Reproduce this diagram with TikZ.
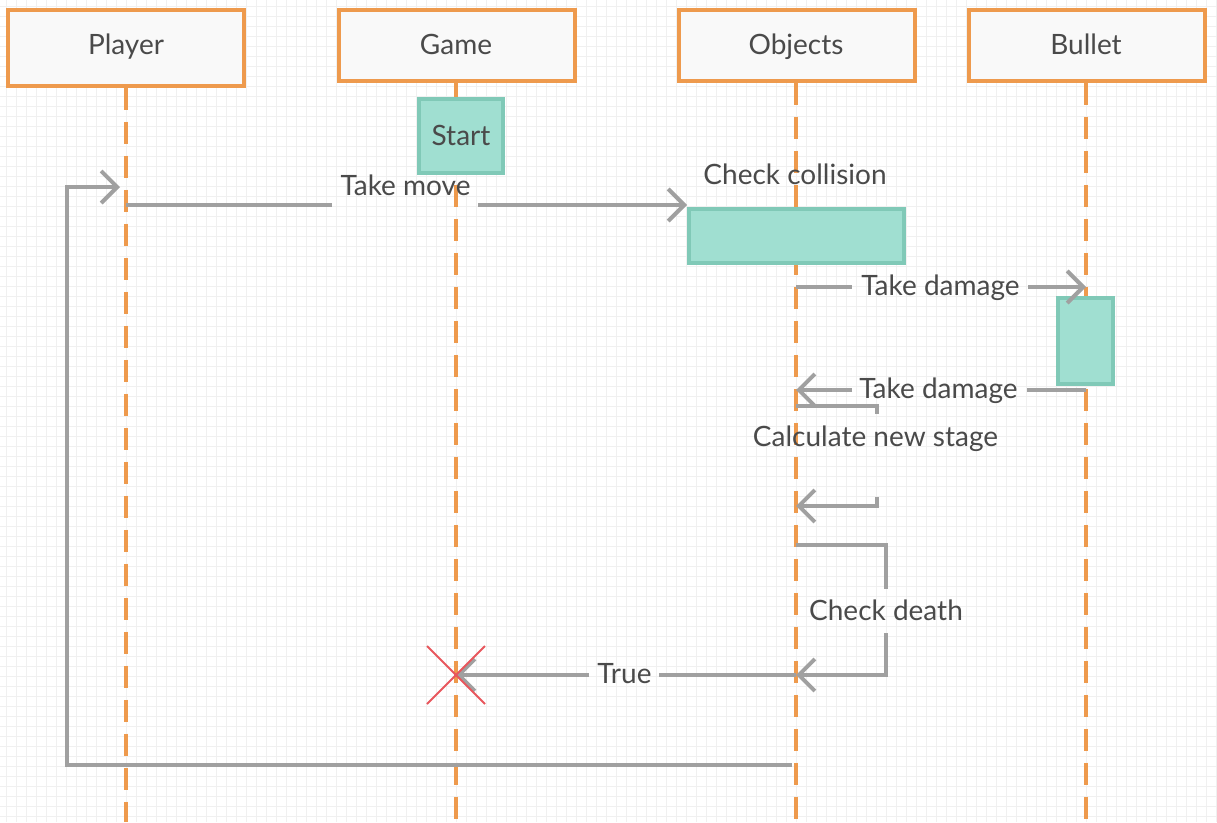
\documentclass[tikz,border=0pt]{standalone}
\usepackage{fontspec}
\setmainfont{Lato}
\usetikzlibrary{arrows.meta,calc}
\definecolor{hdrorange}{HTML}{EE9A4D}
\definecolor{hdrfill}{HTML}{F9F9F9}
\definecolor{actfill}{HTML}{A0DFD1}
\definecolor{actdraw}{HTML}{80C9B7}
\definecolor{msggray}{HTML}{A0A0A0}
\definecolor{txtgray}{HTML}{4A4A4A}
\definecolor{gridgray}{HTML}{F0F0F0}
\definecolor{xred}{HTML}{E8575D}
\begin{document}
\begin{tikzpicture}[x=1pt,y=-1pt,
  txt/.style={text=txtgray, font=\fontsize{28}{32}\selectfont, inner sep=0pt, anchor=base},
  header/.style={draw=hdrorange, fill=hdrfill, line width=4pt, minimum width=236pt, inner sep=0pt},
  actbox/.style={draw=actdraw, fill=actfill, line width=4pt, inner sep=0pt},
  lifeline/.style={draw=hdrorange, line width=4pt, dash pattern=on 22pt off 12pt},
  msg/.style={draw=msggray, line width=4pt},
  arr/.style={msg, -{Straight Barb[length=16pt,width=32pt,line width=4pt]}},
  killmark/.style={draw=xred, line width=1.8pt}]
% background and grid
\fill[white] (0,0) rectangle (1217,822);
\useasboundingbox (0,0) rectangle (1217,822);
\foreach \g in {6,16,...,1216} {\draw[gridgray, line width=1pt] (\g,0) -- (\g,822);}
\foreach \g in {6,16,...,816} {\draw[gridgray, line width=1pt] (0,\g) -- (1217,\g);}

% headers
\node[header, minimum height=76pt] (player) at (126,47.5) {};
\node[header, minimum height=71pt] (game) at (456.5,45) {};
\node[header, minimum height=71pt] (objects) at (796.5,45) {};
\node[header, minimum height=71pt] (bullet) at (1086.5,45) {};
\node[txt] (playerT) at (126,54) {Player};
\node[txt] (gameT) at (456,54) {Game};
\node[txt] (objectsT) at (796,54) {Objects};
\node[txt] (bulletT) at (1086,54) {Bullet};

% lifeline ends
\coordinate (pEnd) at (126,822);
\coordinate (gEnd) at (456,822);
\coordinate (oEnd) at (796,822);
\coordinate (bEnd) at (1086,822);
\draw[lifeline] (player.south -| pEnd) -- (pEnd);
\draw[lifeline] (game.south -| gEnd) -- (gEnd);
\draw[lifeline] (objects.south -| oEnd) -- (oEnd);
\draw[lifeline] (bullet.south -| bEnd) -- (bEnd);

% activation boxes
\node[actbox, minimum width=84pt, minimum height=74pt] (start) at (461,136) {};
\node[txt] (startT) at (461,145.5) {Start};
\node[actbox, minimum width=215pt, minimum height=54pt] (collide) at (796.5,236) {};
\node[actbox, minimum width=55pt, minimum height=86pt] (bact) at (1085.5,341) {};

% Take move
\node[txt] (takemove) at (405.5,195) {Take move};
\coordinate (tm1) at (126,205);
\coordinate (tm2) at (332,205);
\coordinate (tm3) at (478,205);
\draw[msg] (tm1) -- (tm2);
\draw[arr] (tm3) -- (collide.west |- tm3);
\node[txt] (checkcol) at (795,184) {Check collision};

% Take damage 1
\node[txt] (td1) at (940.5,295) {Take damage};
\coordinate (td1a) at (796,287);
\coordinate (td1b) at (852,287);
\coordinate (td1c) at (1028,287);
\coordinate (td1d) at (1086,287);
\draw[msg] (td1a) -- (td1b);
\draw[arr] (td1c) -- (td1d);

% Take damage 2
\node[txt] (td2) at (938.5,398) {Take damage};
\coordinate (td2a) at (1086,390);
\coordinate (td2b) at (1027,390);
\coordinate (td2c) at (852,390);
\coordinate (td2d) at (796,390);
\draw[msg] (td2a) -- (td2b);
\draw[arr] (td2c) -- (td2d);

% Calculate new stage
\node[txt] (calc) at (875.5,446.5) {Calculate new stage};
\coordinate (cs1) at (796,406);
\coordinate (cs2) at (877,406);
\coordinate (cs3) at (877,414);
\coordinate (cs4) at (877,497);
\coordinate (cs5) at (877,506);
\coordinate (cs6) at (796,506);
\draw[msg] (cs1) -- (cs2) -- (cs3);
\draw[arr] (cs4) -- (cs5) -- (cs6);

% Check death
\node[txt] (death) at (886,620) {Check death};
\coordinate (cd1) at (796,545);
\coordinate (cd2) at (886,545);
\coordinate (cd3) at (886,589);
\coordinate (cd4) at (886,633);
\coordinate (cd5) at (886,675);
\coordinate (cd6) at (796,675);
\draw[msg] (cd1) -- (cd2) -- (cd3);
\draw[arr] (cd4) -- (cd5) -- (cd6);

% True
\node[txt] (true) at (624.5,683) {True};
\coordinate (tr1) at (796,675);
\coordinate (tr2) at (659,675);
\coordinate (tr3) at (589,675);
\coordinate (kill) at (456,675);
\draw[msg] (tr1) -- (tr2);
\draw[arr] (tr3) -- (kill);
\draw[killmark] ($(kill)+(-29,-29)$) -- ($(kill)+(29,29)$);
\draw[killmark] ($(kill)+(-29,29)$) -- ($(kill)+(29,-29)$);

% Return to player
\coordinate (rt1) at (792,765);
\coordinate (rt2) at (67,765);
\coordinate (rt3) at (67,187);
\coordinate (rt4) at (120,187);
\draw[arr] (rt1) -- (rt2) -- (rt3) -- (rt4);
\end{tikzpicture}
\end{document}
